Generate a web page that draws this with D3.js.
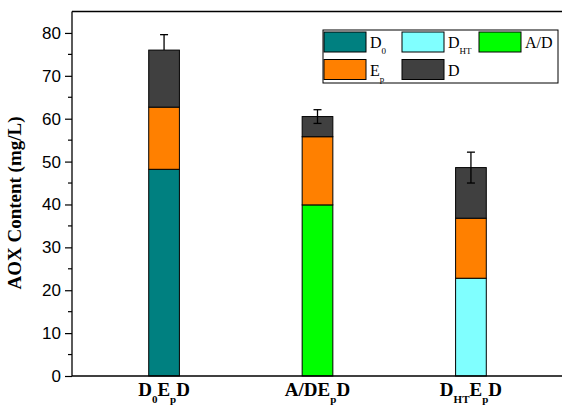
<!DOCTYPE html>
<html>
<head>
<meta charset="utf-8">
<script src="https://cdn.jsdelivr.net/npm/d3@7"></script>
<style>
  body { margin: 0; background: #fff; }
  svg { display: block; }
</style>
</head>
<body>
<svg width="562" height="407"></svg>
<script>
// data
var categories = ["D0EpD", "A/DEpD", "DHTEpD"];
var baseStage = [48.2, 39.9, 22.8];     // D0 / A/D / DHT
var baseKey = ["D0", "AD", "DHT"];
var epStage = [14.5, 15.9, 14.0];
var dStage = [13.3, 4.7, 11.8];
var errUp = [3.6, 1.6, 3.6];
var errDown = [0, 1.6, 3.6];
var yTicks = [0, 10, 20, 30, 40, 50, 60, 70, 80];

var colors = { D0: "#008080", DHT: "#80ffff", AD: "#00ff00", Ep: "#ff8000", D: "#404040" };

(function() {
    var svg = d3.select("svg");
    var pLeft = 72, pRight = 563, pTop = 11.5, pBottom = 376;

    var x = d3.scaleLinear().domain([0.4, categories.length + 0.6]).range([pLeft, pRight]);
    var y = d3.scaleLinear().domain([0, 85]).range([pBottom, pTop]);
    var barW = x(1.2) - x(1);

    // stacked segments
    var segs = [];
    categories.forEach(function(c, i) {
        var y0 = 0;
        [[baseKey[i], baseStage[i]], ["Ep", epStage[i]], ["D", dStage[i]]].forEach(function(s) {
            segs.push({ i: i, key: s[0], y0: y0, y1: y0 + s[1] });
            y0 += s[1];
        });
    });

    svg.selectAll("rect.seg")
        .data(segs)
        .enter().append("rect")
        .attr("class", "seg")
        .attr("x", function(d) { return x(d.i + 1) - barW / 2; })
        .attr("width", barW)
        .attr("y", function(d) { return y(d.y1); })
        .attr("height", function(d) { return y(d.y0) - y(d.y1); })
        .attr("fill", function(d) { return colors[d.key]; })
        .attr("stroke", "#000")
        .attr("stroke-width", 1);

    // error bars
    var totals = categories.map(function(c, i) { return baseStage[i] + epStage[i] + dStage[i]; });
    var eb = svg.append("g").attr("stroke", "#000").attr("stroke-width", 1.3);
    totals.forEach(function(t, i) {
        var cx = x(i + 1);
        eb.append("line").attr("x1", cx).attr("x2", cx)
            .attr("y1", y(t + errUp[i])).attr("y2", y(t - errDown[i]));
        eb.append("line").attr("x1", cx - 4).attr("x2", cx + 4)
            .attr("y1", y(t + errUp[i])).attr("y2", y(t + errUp[i]));
        if (errDown[i] > 0) {
            eb.append("line").attr("x1", cx - 4).attr("x2", cx + 4)
                .attr("y1", y(t - errDown[i])).attr("y2", y(t - errDown[i]));
        }
    });

    // frame lines (left, bottom, top)
    var frame = svg.append("g").attr("stroke", "#000").attr("stroke-width", 1.3);
    frame.append("line").attr("x1", pLeft).attr("x2", pLeft).attr("y1", pTop).attr("y2", pBottom);
    frame.append("line").attr("x1", pLeft).attr("x2", 562).attr("y1", pBottom).attr("y2", pBottom);
    frame.append("line").attr("x1", pLeft).attr("x2", 562).attr("y1", pTop).attr("y2", pTop);

    // y axis
    var yAxis = d3.axisLeft(y).tickValues(yTicks).tickSize(7).tickPadding(4);
    var ya = svg.append("g").attr("transform", "translate(" + pLeft + ",0)").call(yAxis);
    ya.select(".domain").remove();
    ya.selectAll("line").attr("stroke-width", 1.2);
    ya.selectAll("text")
        .attr("font-family", "'Liberation Sans', Arial, sans-serif")
        .attr("font-size", 17)
        .attr("fill", "#000");
    ya.selectAll("line.minor")
        .data(d3.range(5, 85, 10))
        .enter().append("line")
        .attr("class", "minor")
        .attr("x1", -4).attr("x2", 0)
        .attr("y1", function(d) { return y(d); })
        .attr("y2", function(d) { return y(d); })
        .attr("stroke", "#000").attr("stroke-width", 1.2);

    // y title
    svg.append("text")
        .attr("transform", "translate(21,203) rotate(-90)")
        .attr("text-anchor", "middle")
        .attr("font-family", "'Liberation Serif', 'Times New Roman', serif")
        .attr("font-weight", "bold")
        .attr("font-size", 19)
        .text("AOX Content (mg/L)");

    // category labels with subscripts
    var labelParts = [
        [["D", 0], ["0", 1], ["E", 0], ["p", 1], ["D", 0]],
        [["A/DE", 0], ["p", 1], ["D", 0]],
        [["D", 0], ["HT", 1], ["E", 0], ["p", 1], ["D", 0]]
    ];
    labelParts.forEach(function(parts, i) {
        var t = svg.append("text")
            .attr("x", x(i + 1))
            .attr("y", 396)
            .attr("text-anchor", "middle")
            .attr("font-family", "'Liberation Serif', 'Times New Roman', serif")
            .attr("font-weight", "bold")
            .attr("font-size", 19);
        var down = false;
        parts.forEach(function(p) {
            var ts = t.append("tspan").text(p[0]);
            if (p[1]) { ts.attr("font-size", 11).attr("dy", 7); down = true; }
            else if (down) { ts.attr("dy", -7); down = false; }
        });
    });

    // legend
    var leg = svg.append("g");
    leg.append("rect").attr("x", 323).attr("y", 30).attr("width", 235).attr("height", 53)
        .attr("fill", "#fff").attr("stroke", "#000").attr("stroke-width", 1);
    var legItems = [
        { key: "D0", main: "D", sub: "0", col: 0, row: 0 },
        { key: "DHT", main: "D", sub: "HT", col: 1, row: 0 },
        { key: "AD", main: "A/D", sub: "", col: 2, row: 0 },
        { key: "Ep", main: "E", sub: "p", col: 0, row: 1 },
        { key: "D", main: "D", sub: "", col: 1, row: 1 }
    ];
    var colX = [324, 402, 479];
    legItems.forEach(function(it) {
        var lx = colX[it.col], ly = 32 + it.row * 27.5;
        leg.append("rect").attr("x", lx).attr("y", ly).attr("width", 42).attr("height", 20)
            .attr("fill", colors[it.key]).attr("stroke", "#000").attr("stroke-width", 1);
        var t = leg.append("text")
            .attr("x", lx + 46).attr("y", ly + 16)
            .attr("font-family", "'Liberation Serif', 'Times New Roman', serif")
            .attr("font-size", 16);
        t.append("tspan").text(it.main);
        if (it.sub) t.append("tspan").attr("font-size", 9).attr("dy", 6).text(it.sub);
    });
})();
</script>
</body>
</html>
